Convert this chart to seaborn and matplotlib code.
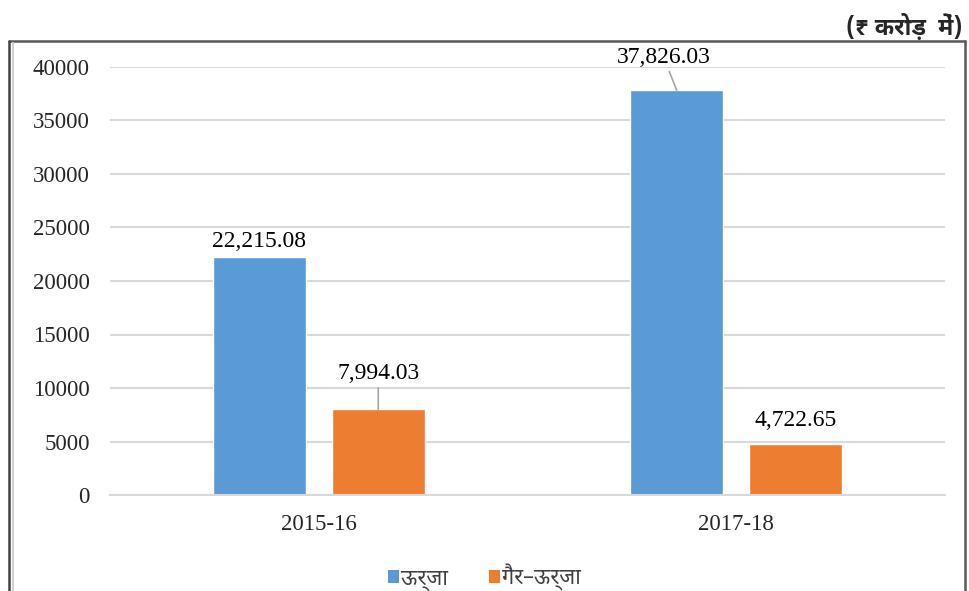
import matplotlib
matplotlib.use("Agg")
import matplotlib.pyplot as plt
from matplotlib import font_manager
from matplotlib.patches import Rectangle
from matplotlib.lines import Line2D
import seaborn as sns
import pandas as pd

# ---- data ----
categories = ["2015-16", "2017-18"]
series_names = ["ऊर्जा", "गैर–ऊर्जा"]
energy = [22215.08, 37826.03]
non_energy = [7994.03, 4722.65]
value_labels_energy = ["22,215.08", "37,826.03"]
value_labels_non = ["7,994.03", "4,722.65"]
yticks = [0, 5000, 10000, 15000, 20000, 25000, 30000, 35000, 40000]
unit_title = "(₹ करोड़  में)"
colors = ["#5B9BD5", "#ED7D31"]

deva_family = ["Noto Sans Devanagari UI", "Noto Sans Devanagari", "FreeSans", "DejaVu Sans"]

sns.set_theme(style="white")
plt.rcParams["font.family"] = ["Liberation Serif", "DejaVu Serif"]

df = pd.DataFrame({
    "year": categories * 2,
    "value": energy + non_energy,
    "series": [series_names[0]] * 2 + [series_names[1]] * 2,
})

fig = plt.figure(figsize=(9.69, 5.91), dpi=100)
ax = fig.add_axes([110 / 969, 1 - 495 / 591, 835 / 969, 428 / 591])

sns.barplot(data=df, x="year", y="value", hue="series", order=categories,
            hue_order=series_names, palette=colors, width=0.57, gap=0.22,
            saturation=1, ax=ax, legend=False, errorbar=None)

ax.set_ylim(0, 40000)
ax.set_yticks(yticks)
ax.set_yticklabels([str(t) for t in yticks], fontsize=16.5)
ax.tick_params(axis="x", labelsize=16.5, pad=14, length=0)
ax.tick_params(axis="y", length=0, pad=14.5)
ax.set_xlabel("")
ax.set_ylabel("")
ax.yaxis.grid(True, color="#d9d9d9", linewidth=1.5)
ax.set_axisbelow(True)
for s in ["top", "right", "left"]:
    ax.spines[s].set_visible(False)
ax.spines["bottom"].set_color("#d9d9d9")
ax.spines["bottom"].set_linewidth(1.5)

# data labels with leader lines
bars = ax.patches
label_specs = [
    (0, 0, value_labels_energy[0], 0, 5, False),
    (0, 1, value_labels_energy[1], -13, 22, True),
    (1, 0, value_labels_non[0], 0, 25, True),
    (1, 1, value_labels_non[1], 0, 13, False),
]
vals = [energy, non_energy]
for si, ci, lab, dx, dy, leader in label_specs:
    b = bars[si * 2 + ci]
    xc = b.get_x() + b.get_width() / 2
    yv = vals[si][ci]
    ap = dict(arrowstyle="-", color="#a6a6a6", lw=1.2, shrinkA=0, shrinkB=0) if leader else None
    ax.annotate(lab, xy=(xc, yv), xytext=(dx, dy), textcoords="offset pixels",
                ha="center", va="bottom", fontsize=17, color="#000000",
                arrowprops=ap, annotation_clip=False)

# legend
handles = [Rectangle((0, 0), 1, 1, facecolor=c, edgecolor="none") for c in colors]
fig.legend(handles, series_names, loc="center", bbox_to_anchor=(0.5, 1 - 577 / 591),
           ncol=2, frameon=False, handlelength=0.5, handleheight=0.5,
           handletextpad=0.1, columnspacing=1.9, labelcolor="#404040",
           prop=font_manager.FontProperties(family=deva_family, size=15.5))

# unit title
fig.text(963 / 969, 1 - 28 / 591, unit_title, ha="right", va="center",
         fontsize=17, fontweight="bold", family=deva_family, color="#262626")

# outer frame
fig.add_artist(Line2D([9 / 969, 965 / 969], [1 - 41 / 591, 1 - 41 / 591],
                      transform=fig.transFigure, color="#595959", lw=1.8))
fig.add_artist(Line2D([9 / 969, 9 / 969], [0, 1 - 41 / 591],
                      transform=fig.transFigure, color="#404040", lw=1.8))
fig.add_artist(Line2D([13 / 969, 13 / 969], [0, 1 - 43 / 591],
                      transform=fig.transFigure, color="#d0d0d0", lw=1.5))
fig.add_artist(Line2D([965 / 969, 965 / 969], [0, 1 - 41 / 591],
                      transform=fig.transFigure, color="#595959", lw=1.8))

fig.savefig("out.png", dpi=100)
